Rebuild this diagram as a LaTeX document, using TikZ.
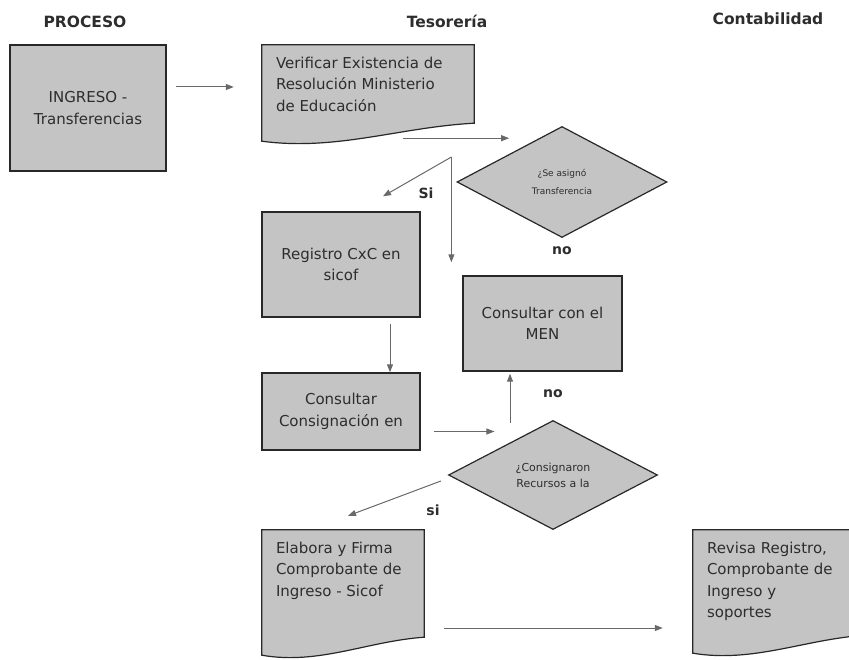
\documentclass[tikz,border=0pt]{standalone}
\usepackage{fontspec}
\setmainfont{DejaVu Sans}
\usetikzlibrary{shapes.geometric,backgrounds,calc,arrows.meta}
\definecolor{boxfill}{RGB}{196,196,196}
\definecolor{boxline}{RGB}{40,40,40}
\definecolor{arrowgray}{RGB}{105,105,105}
\definecolor{textgray}{RGB}{45,45,45}

\begin{document}
\begin{tikzpicture}[
        x=1pt, y=1pt,
        >={Triangle[length=8pt,width=6pt]},
        every node/.style={text=textgray, font=\fontsize{15}{21.5}\selectfont},
        head/.style={font=\bfseries\fontsize{15.5}{18}\selectfont},
        box/.style={draw=boxline, line width=1.4pt, fill=boxfill, align=center, inner sep=4pt},
        doc/.style={inner xsep=14pt, inner ysep=8pt},
        doc line/.style={draw=boxline, line width=1.2pt, fill=boxfill},
        decision/.style={diamond, draw=boxline, line width=1.2pt, fill=boxfill, inner sep=0pt, align=center},
        arr/.style={->, draw=arrowgray, line width=1pt},
        tag/.style={font=\bfseries\fontsize{14}{16}\selectfont},
    ]
    \useasboundingbox (0,0) rectangle (849,-660);
    % column headers
    \node[head] (proceso) at (85,-22) {PROCESO};
    \node[head] (tesoreria) at (447,-21) {Tesorería};
    \node[head] (contabilidad) at (768,-19) {Contabilidad};

    \node[box, minimum width=156pt, minimum height=126pt] (ingreso) at (88,-108) {INGRESO -\\Transferencias};
    \node[doc, minimum width=212pt, minimum height=88pt] (verificar) at (368,-89)
        {\parbox[c][72pt][t]{184pt}{\strut Verificar Existencia de\\Resolución Ministerio\\de Educación}};
    \node[decision, minimum width=210pt, minimum height=111pt, font=\fontsize{9}{18}\selectfont] (asigna) at (562,-182)
        {¿Se asignó\\Transferencia};
    \node[box, minimum width=158pt, minimum height=105pt] (registro) at (341,-264.5) {Registro CxC en\\sicof};
    \node[box, minimum width=159pt, minimum height=95pt] (men) at (542.5,-323.5) {Consultar con el\\MEN};
    \node[box, minimum width=158pt, minimum height=77pt] (consulta) at (341,-411.5) {Consultar\\Consignación en};
    \node[decision, minimum width=209pt, minimum height=109pt, font=\fontsize{11}{16}\selectfont] (consigna) at (553,-475)
        {¿Consignaron\\Recursos a la};
    \node[doc, minimum width=162pt, minimum height=117pt] (elabora) at (343,-588.5)
        {\parbox[c][101pt][t]{134pt}{\strut Elabora y Firma\\Comprobante de\\Ingreso - Sicof}};
    \node[doc, minimum width=172pt, minimum height=115pt] (revisa) at (779,-587.5)
        {\parbox[c][99pt][t]{144pt}{\strut Revisa Registro,\\Comprobante de\\Ingreso y\\soportes}};

    % document outlines with wavy bottom
    \begin{scope}[on background layer]
    \foreach \docname in {verificar,elabora,revisa}
        \draw[doc line] (\docname.north west) -- (\docname.north east) -- ([yshift=10pt]\docname.south east)
            .. controls ($(\docname.south west)!0.65!(\docname.south east)+(0,6)$) and ($(\docname.south west)!0.35!(\docname.south east)+(0,-18)$)
            .. ([yshift=-8pt]\docname.south west) -- cycle;
    \end{scope}

    \draw[arr, shorten <=9pt, shorten >=28pt] ([yshift=21pt]ingreso.east) -- ([yshift=21pt]ingreso.east -| verificar.west);
    \draw[arr] ([xshift=35pt,yshift=-5pt]verificar.south) -- ([yshift=-5pt]verificar.south -| asigna.north west);
    \coordinate (split) at ([xshift=-5pt,yshift=25pt]asigna.west);
    \draw[arr] (split) -- ([xshift=42pt,yshift=15pt]registro.north);
    \draw[arr, shorten >=13pt] (split) -- (split |- men.north);
    \draw[arr] ([xshift=49pt,yshift=-6pt]registro.south) -- ([xshift=49pt]consulta.north);
    \draw[arr, shorten <=13pt] ([yshift=-20pt]consulta.east) -- ([yshift=-20pt,xshift=-6pt]consulta.east -| consigna.north west);
    \draw[arr, shorten >=2pt] ([xshift=-43pt,yshift=-3pt]consigna.north) -- ([xshift=-43pt]consigna.north |- men.south);
    \draw[arr] ([xshift=-7pt,yshift=-6pt]consigna.west) -- ([xshift=5pt,yshift=14pt]elabora.north);
    \draw[arr, shorten <=20pt, shorten >=30pt] ([yshift=-39.5pt]elabora.east) -- ([yshift=-39.5pt]elabora.east -| revisa.west);

    \node[tag] (si1) at (426,-193) {Si};
    \node[tag] (no1) at (562,-251) {no};
    \node[tag] (no2) at (553,-394) {no};
    \node[tag] (si2) at (433,-510) {si};
\end{tikzpicture}
\end{document}
